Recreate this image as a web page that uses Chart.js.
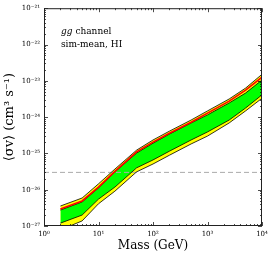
<!DOCTYPE html>
<html>
<head>
<meta charset="utf-8">
<script src="https://cdn.jsdelivr.net/npm/chart.js@4"></script>
<style>
  html, body { margin: 0; padding: 0; background: #fff; }
  #wrap { width: 274px; height: 257px; }
</style>
</head>
<body>
<div id="wrap"><canvas id="limitChart" width="274" height="257"></canvas></div>
<script>
// dark matter mass (GeV)
const masses = [2, 5, 10, 20, 50, 100, 200, 500, 1000, 2500, 5000, 10000]
// <sigma v> limits (cm^3 s^-1)
const observed = [2.95e-27, 4.9e-27, 1.18e-26, 3.2e-26, 1.10e-25, 2.04e-25, 3.6e-25, 7.2e-25, 1.29e-24, 2.75e-24, 5.5e-24, 1.26e-23]
const band95Upper = [3.55e-27, 5.9e-27, 1.45e-26, 3.7e-26, 1.23e-25, 2.34e-25, 4.1e-25, 8.3e-25, 1.48e-24, 3.16e-24, 6.3e-24, 1.51e-23]
const band68Upper = [2.75e-27, 4.6e-27, 1.12e-26, 3.1e-26, 1.02e-25, 1.91e-25, 3.4e-25, 6.9e-25, 1.15e-24, 2.45e-24, 4.6e-24, 1.05e-23]
const band68Lower = [1.20e-27, 2.0e-27, 5.5e-27, 1.18e-26, 4.0e-26, 6.6e-26, 1.15e-25, 2.34e-25, 3.9e-25, 8.3e-25, 1.78e-24, 4.1e-24]
const band95Lower = [7.8e-28, 1.38e-27, 4.1e-27, 9.1e-27, 3.1e-26, 5.1e-26, 8.9e-26, 1.82e-25, 3.0e-25, 6.9e-25, 1.48e-24, 3.3e-24]
const thermalRelic = 3e-26
const xRange = [1, 10000]
const yRange = [1e-27, 1e-21]

const sup = { '-': '⁻', '0': '⁰', '1': '¹', '2': '²', '3': '³', '4': '⁴', '5': '⁵', '6': '⁶', '7': '⁷', '8': '⁸', '9': '⁹' }
function powLabel(v) {
  const e = Math.log10(v)
  if (Math.abs(e - Math.round(e)) > 1e-6) return ''
  return '10' + String(Math.round(e)).split('').map(c => sup[c]).join('')
}

function logTicks(scale) {
  const lo = Math.round(Math.log10(scale.min))
  const hi = Math.round(Math.log10(scale.max))
  const ticks = []
  for (let e = lo; e <= hi; e++) {
    for (let k = 1; k <= 9; k++) {
      if (e === hi && k > 1) break
      ticks.push({ value: k * Math.pow(10, e), major: k === 1 })
    }
  }
  scale.ticks = ticks
}

const pts = arr => masses.map((m, i) => ({ x: m, y: arr[i] }))
const serif = "'DejaVu Serif', serif"

const edge = { borderColor: '#000', borderWidth: 0.8, pointRadius: 0, tension: 0 }

const frame = {
  id: 'frame',
  afterDatasetsDraw(chart) {
    const { ctx, chartArea: a, scales } = chart
    ctx.save()
    ctx.strokeStyle = '#000'
    ctx.lineWidth = 0.7
    ctx.beginPath()
    scales.x.ticks.forEach(t => {
      const px = Math.round(scales.x.getPixelForValue(t.value)) + 0.5
      const len = t.major ? 4 : 2
      ctx.moveTo(px, a.bottom); ctx.lineTo(px, a.bottom - len)
      ctx.moveTo(px, a.top); ctx.lineTo(px, a.top + len)
    })
    scales.y.ticks.forEach(t => {
      const py = Math.round(scales.y.getPixelForValue(t.value)) + 0.5
      const len = t.major ? 4 : 2
      ctx.moveTo(a.left, py); ctx.lineTo(a.left + len, py)
      ctx.moveTo(a.right, py); ctx.lineTo(a.right - len, py)
    })
    ctx.stroke()
    ctx.lineWidth = 1
    ctx.strokeStyle = '#222'
    ctx.strokeRect(a.left + 0.5, a.top + 0.5, a.right - a.left - 1, a.bottom - a.top - 1)

    ctx.fillStyle = '#000'
    ctx.textBaseline = 'alphabetic'
    ctx.font = 'italic 9px ' + serif
    ctx.fillText('gg', 61, 34)
    const w = ctx.measureText('gg ').width
    ctx.font = '9px ' + serif
    ctx.fillText('channel', 61 + w, 34)
    ctx.fillText('sim-mean, HI', 61, 47)
    ctx.restore()
  }
}

const myChart = new Chart(
  document.getElementById('limitChart'),
  {
    type: 'line',
    data: {
      datasets: [
        { label: 'observed', data: pts(observed), borderColor: '#ff0000', borderWidth: 1.6, pointRadius: 0, fill: false },
        { label: '68% upper', data: pts(band68Upper), ...edge, backgroundColor: '#00ff00', fill: '+1' },
        { label: '68% lower', data: pts(band68Lower), ...edge, fill: false },
        { label: '95% upper', data: pts(band95Upper), ...edge, backgroundColor: '#ffff00', fill: '+1' },
        { label: '95% lower', data: pts(band95Lower), ...edge, fill: false },
        {
          label: 'thermal relic',
          data: xRange.map(x => ({ x, y: thermalRelic })),
          borderColor: '#aaaaaa', borderWidth: 1, borderDash: [5, 3], pointRadius: 0, fill: false
        }
      ]
    },
    options: {
      responsive: false,
      animation: false,
      layout: { padding: { top: 8, right: 12, left: 0, bottom: 0 } },
      plugins: {
        legend: { display: false },
        tooltip: { enabled: false },
        filler: { drawTime: 'beforeDatasetsDraw' }
      },
      scales: {
        x: {
          type: 'logarithmic',
          min: xRange[0],
          max: xRange[1],
          afterBuildTicks: logTicks,
          afterFit: s => { s.height = 31 },
          grid: { display: false, drawTicks: false },
          border: { display: false },
          ticks: {
            autoSkip: false, maxRotation: 0, padding: 4,
            color: '#000', font: { family: serif, size: 7 },
            callback: v => powLabel(v)
          },
          title: {
            display: true, text: 'Mass (GeV)', color: '#000',
            font: { family: serif, size: 12 }, padding: { top: 0, bottom: 4 }
          }
        },
        y: {
          type: 'logarithmic',
          min: yRange[0],
          max: yRange[1],
          afterBuildTicks: logTicks,
          afterFit: s => { s.width = 44 },
          grid: { display: false, drawTicks: false },
          border: { display: false },
          ticks: {
            autoSkip: false, padding: 4,
            color: '#000', font: { family: serif, size: 7 },
            callback: v => powLabel(v)
          },
          title: {
            display: true, text: '⟨σv⟩ (cm³ s⁻¹)', color: '#000',
            font: { family: serif, size: 13 }, padding: { top: 2, bottom: 0 }
          }
        }
      }
    },
    plugins: [frame]
  }
)

myChart.render()
</script>
</body>
</html>
